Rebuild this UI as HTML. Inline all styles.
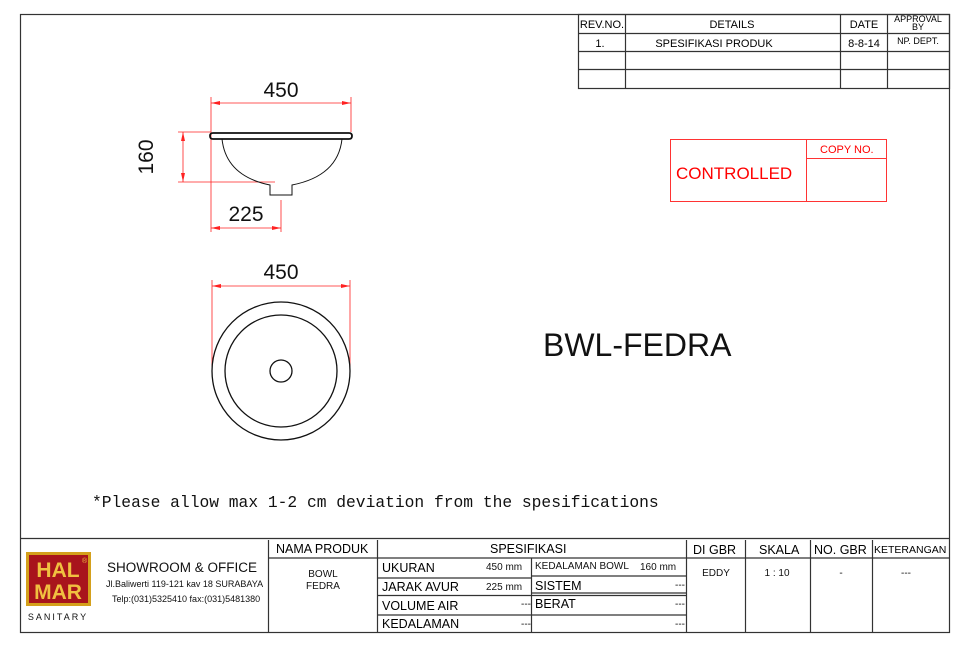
<!DOCTYPE html>
<html><head><meta charset="utf-8"><style>
body{margin:0;background:#fff;width:968px;height:647px;overflow:hidden}
svg{display:block}
text{font-family:"Liberation Sans",sans-serif}
</style></head><body>
<svg width="968" height="647" viewBox="0 0 968 647" xmlns="http://www.w3.org/2000/svg">
<g stroke="#333" stroke-width="1.2" fill="none">
<rect x="20.5" y="14.5" width="929" height="618"/>
<line x1="20" y1="538.5" x2="949" y2="538.5"/>
<rect x="578.5" y="14.5" width="371" height="74"/>
<line x1="578" y1="33.5" x2="949" y2="33.5"/>
<line x1="578" y1="51.5" x2="949" y2="51.5"/>
<line x1="578" y1="69.5" x2="949" y2="69.5"/>
<line x1="625.5" y1="14" x2="625.5" y2="88"/>
<line x1="840.5" y1="14" x2="840.5" y2="88"/>
<line x1="887.5" y1="14" x2="887.5" y2="88"/>
<line x1="268.5" y1="540" x2="268.5" y2="632"/>
<line x1="377.5" y1="540" x2="377.5" y2="632"/>
<line x1="686.5" y1="540" x2="686.5" y2="632"/>
<line x1="745.5" y1="540" x2="745.5" y2="632"/>
<line x1="810.5" y1="540" x2="810.5" y2="632"/>
<line x1="872.5" y1="540" x2="872.5" y2="632"/>
<line x1="268" y1="558" x2="949" y2="558"/>
<line x1="377" y1="578" x2="531" y2="578"/>
<line x1="377" y1="595.5" x2="686" y2="595.5"/>
<line x1="377" y1="615" x2="686" y2="615"/>
<line x1="531" y1="576" x2="686" y2="576"/>
<line x1="531" y1="593" x2="686" y2="593"/>
<line x1="531.5" y1="558" x2="531.5" y2="632"/>
</g>
<g stroke="#f33" stroke-width="1" fill="none">
<rect x="670.5" y="139.5" width="216" height="62"/>
<line x1="806.5" y1="139" x2="806.5" y2="201"/>
<line x1="806" y1="158.5" x2="886" y2="158.5"/>
</g>
<text x="676" y="179" font-size="17" fill="#f00">CONTROLLED</text>
<text x="820" y="153" font-size="11" fill="#f00">COPY NO.</text>
<g font-size="11" fill="#000" text-anchor="middle">
<text x="602" y="28">REV.NO.</text>
<text x="732" y="28">DETAILS</text>
<text x="864" y="28">DATE</text>
<text x="918" y="22" font-size="9">APPROVAL</text>
<text x="918" y="30" font-size="9">BY</text>
<text x="600" y="47">1.</text>
<text x="714" y="47">SPESIFIKASI PRODUK</text>
<text x="864" y="47">8-8-14</text>
<text x="918" y="44" font-size="9">NP. DEPT.</text>
</g>
<g stroke="#f22" stroke-width="0.8" fill="none">
<line x1="211" y1="97" x2="211" y2="232"/>
<line x1="351" y1="97" x2="351" y2="132"/>
<line x1="211" y1="103" x2="351" y2="103"/>
<line x1="178" y1="132" x2="211" y2="132"/>
<line x1="178" y1="182" x2="275" y2="182"/>
<line x1="183" y1="132" x2="183" y2="182"/>
<line x1="281" y1="200" x2="281" y2="232"/>
<line x1="211" y1="228" x2="281" y2="228"/>
<line x1="212" y1="286" x2="350" y2="286"/>
<line x1="212" y1="280" x2="212" y2="367"/>
<line x1="350" y1="280" x2="350" y2="367"/>
</g>
<g fill="#f22">
<polygon points="211,103 220,101 220,105"/><polygon points="351,103 342,101 342,105"/>
<polygon points="183,132 181,141 185,141"/><polygon points="183,182 181,173 185,173"/>
<polygon points="211,228 220,226 220,230"/><polygon points="281,228 272,226 272,230"/>
<polygon points="212,286 221,284 221,288"/><polygon points="350,286 341,284 341,288"/>
</g>
<g stroke="#111" stroke-width="1.3" fill="none">
<path d="M213,133 L349,133 Q352,133 352,136 Q352,139 349,139 L213,139 Q210,139 210,136 Q210,133 213,133 Z" stroke-width="1.8"/>
<path d="M222,139 Q226,176 270,185 L270,195 L292,195 L292,185 Q338,176 342,139" stroke-width="1"/>
<circle cx="281" cy="371" r="69"/>
<circle cx="281" cy="371" r="56"/>
<circle cx="281" cy="371" r="11"/>
</g>
<g font-size="21" fill="#111" text-anchor="middle">
<text x="281" y="97">450</text>
<text x="246" y="221">225</text>
<text x="281" y="279">450</text>
<text transform="translate(153,157) rotate(-90)">160</text>
</g>
<text x="543" y="356" font-size="32" fill="#111">BWL-FEDRA</text>
<text x="92" y="507" font-size="16.3" fill="#111" style="font-family:'Liberation Mono',monospace">*Please allow max 1-2 cm deviation from the spesifications</text>
<rect x="26" y="552" width="65" height="54" fill="#d4a01c"/>
<rect x="29" y="555" width="59" height="48" fill="#a8141c"/>
<text x="58" y="577" font-size="21" font-weight="bold" fill="#f0c040" text-anchor="middle">HAL</text>
<text x="58" y="599" font-size="21" font-weight="bold" fill="#f0c040" text-anchor="middle">MAR</text>
<text x="82" y="563" font-size="7" fill="#f0c040">®</text>
<text x="58" y="620" font-size="9" fill="#111" text-anchor="middle" letter-spacing="2">SANITARY</text>
<text x="107" y="572" font-size="13.5" fill="#111">SHOWROOM &amp; OFFICE</text>
<text x="106" y="587" font-size="9" fill="#111">Jl.Baliwerti 119-121 kav 18 SURABAYA</text>
<text x="112" y="602" font-size="9" fill="#111">Telp:(031)5325410 fax:(031)5481380</text>
<g font-size="12.5" fill="#000">
<text x="276" y="553">NAMA PRODUK</text>
<text x="490" y="553">SPESIFIKASI</text>
<text x="693" y="554">DI GBR</text>
<text x="759" y="554">SKALA</text>
<text x="814" y="554">NO. GBR</text>
<text x="874" y="553" font-size="10.5">KETERANGAN</text>
<text x="382" y="572">UKURAN</text>
<text x="382" y="591">JARAK AVUR</text>
<text x="382" y="610">VOLUME AIR</text>
<text x="382" y="628">KEDALAMAN</text>
<text x="535" y="590">SISTEM</text>
<text x="535" y="608">BERAT</text>
</g>
<g font-size="10" fill="#111">
<text x="323" y="577" text-anchor="middle">BOWL</text>
<text x="323" y="589" text-anchor="middle">FEDRA</text>
<text x="486" y="570">450 mm</text>
<text x="486" y="590">225 mm</text>
<text x="535" y="569">KEDALAMAN BOWL</text>
<text x="640" y="570">160 mm</text>
<text x="716" y="576" text-anchor="middle">EDDY</text>
<text x="777" y="576" text-anchor="middle">1 : 10</text>
<text x="841" y="576" text-anchor="middle">-</text>
<text x="906" y="576" text-anchor="middle">---</text>
<text x="675" y="588">---</text>
<text x="675" y="607">---</text>
<text x="675" y="627">---</text>
<text x="521" y="607">---</text>
<text x="521" y="627">---</text>
</g>
</svg>
</body></html>
